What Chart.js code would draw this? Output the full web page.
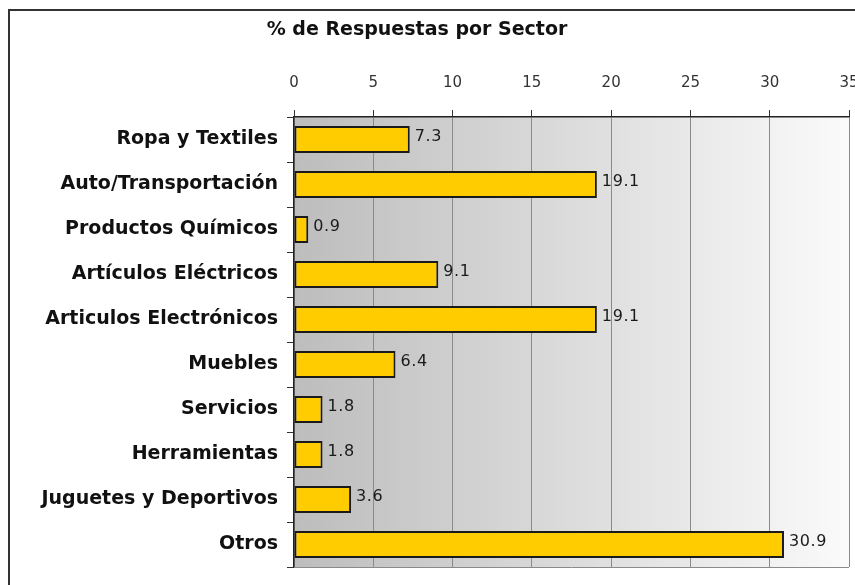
<!DOCTYPE html>
<html>
<head>
<meta charset="utf-8">
<script src="https://cdn.jsdelivr.net/npm/chart.js@4/dist/chart.umd.min.js"></script>
<style>
  html, body { margin: 0; padding: 0; background: #ffffff; overflow: hidden; }
  #wrap { position: relative; width: 855px; height: 585px; }
</style>
</head>
<body>
<div id="wrap"><canvas id="c" width="855" height="585"></canvas></div>
<script>
const chartTitle = "% de Respuestas por Sector";
const categories = [
  "Ropa y Textiles",
  "Auto/Transportación",
  "Productos Químicos",
  "Artículos Eléctricos",
  "Articulos Electrónicos",
  "Muebles",
  "Servicios",
  "Herramientas",
  "Juguetes y Deportivos",
  "Otros"
];
const values = [7.3, 19.1, 0.9, 9.1, 19.1, 6.4, 1.8, 1.8, 3.6, 30.9];
const valueLabels = ["7.3", "19.1", "0.9", "9.1", "19.1", "6.4", "1.8", "1.8", "3.6", "30.9"];
const axisMin = 0, axisMax = 35, axisStep = 5;

const decorPlugin = {
  id: 'decor',
  beforeDraw(chart) {
    const ctx = chart.ctx;
    const a = chart.chartArea;
    ctx.save();
    ctx.strokeStyle = '#333333';
    ctx.lineWidth = 2;
    ctx.strokeRect(9, 10, 1000, 1000);
    const g = ctx.createLinearGradient(a.left, 0, a.right, 0);
    g.addColorStop(0, '#bdbdbd');
    g.addColorStop(1, '#fafafa');
    ctx.fillStyle = g;
    ctx.fillRect(a.left, a.top, a.right - a.left, a.bottom - a.top);
    ctx.restore();
  },
  afterDraw(chart) {
    const ctx = chart.ctx;
    const a = chart.chartArea;
    ctx.save();
    ctx.strokeStyle = '#8a8a8a';
    ctx.lineWidth = 1;
    ctx.beginPath();
    ctx.moveTo(a.left, a.bottom + 0.5);
    ctx.lineTo(a.right, a.bottom + 0.5);
    ctx.stroke();
    ctx.fillStyle = '#111111';
    ctx.font = 'bold 19px "DejaVu Sans"';
    ctx.textAlign = 'center';
    ctx.textBaseline = 'middle';
    ctx.fillText(chartTitle, 417, 30);
    ctx.restore();
  },
  afterDatasetsDraw(chart) {
    const ctx = chart.ctx;
    const meta = chart.getDatasetMeta(0);
    ctx.save();
    ctx.fillStyle = '#1a1a1a';
    ctx.font = '16px "DejaVu Sans"';
    ctx.textAlign = 'left';
    ctx.textBaseline = 'middle';
    if ('letterSpacing' in ctx) ctx.letterSpacing = '0.6px';
    meta.data.forEach((bar, i) => {
      ctx.fillText(valueLabels[i], bar.x + 5, bar.y - 3);
    });
    ctx.restore();
  }
};

new Chart(document.getElementById('c'), {
  type: 'bar',
  data: {
    labels: categories,
    datasets: [{
      data: values,
      backgroundColor: '#ffcc00',
      borderColor: '#1a1a1a',
      borderWidth: 2,
      borderSkipped: false,
      categoryPercentage: 1.0,
      barPercentage: 0.6
    }]
  },
  options: {
    indexAxis: 'y',
    responsive: false,
    animation: false,
    layout: { autoPadding: false, padding: { left: 10, top: 49, right: 6, bottom: 18 } },
    plugins: {
      legend: { display: false },
      tooltip: { enabled: false },
      title: { display: false }
    },
    scales: {
      x: {
        position: 'top',
        min: axisMin,
        max: axisMax,
        afterFit(scale) {
          scale.height = 68;
          scale.paddingLeft = 0;
          scale.paddingRight = 0;
        },
        ticks: {
          stepSize: axisStep,
          color: '#333333',
          font: { family: '"DejaVu Sans"', size: 15 },
          padding: 18,
          maxRotation: 0
        },
        grid: {
          color: '#8a8a8a',
          lineWidth: 1,
          tickColor: '#333333',
          tickLength: 7,
          drawTicks: true
        },
        border: { color: '#222222', width: 1.5 }
      },
      y: {
        afterFit(scale) {
          scale.width = 284;
          scale.paddingTop = 0;
          scale.paddingBottom = 0;
        },
        ticks: {
          color: '#111111',
          font: { family: '"DejaVu Sans"', size: 19, weight: 'bold' },
          padding: 9,
          autoSkip: false
        },
        grid: {
          offset: true,
          drawOnChartArea: false,
          tickColor: '#333333',
          tickLength: 7
        },
        border: { color: '#222222', width: 1.5 }
      }
    }
  },
  plugins: [decorPlugin]
});
</script>
</body>
</html>
